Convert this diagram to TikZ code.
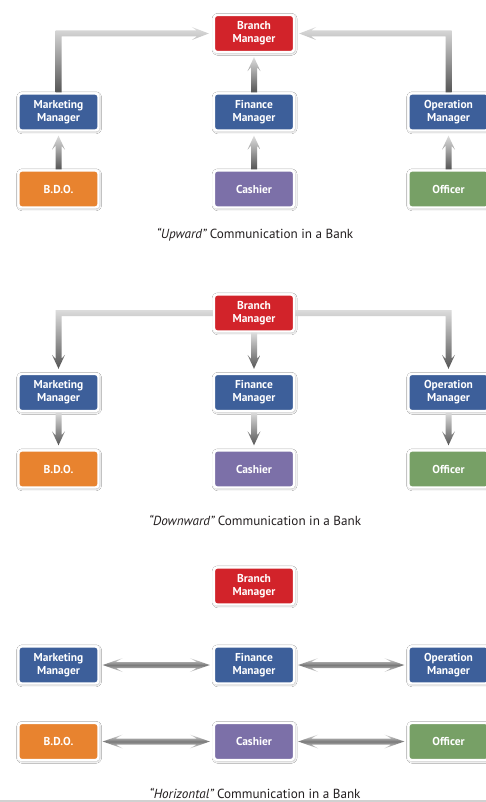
\documentclass[tikz,border=0pt]{standalone}
\usepackage{fontspec}
\setmainfont{PT Sans}
\usetikzlibrary{calc,shadows.blur}
\definecolor{cRed}{HTML}{D2232A}
\definecolor{cBlue}{HTML}{3D5F9A}
\definecolor{cOrange}{HTML}{E8832F}
\definecolor{cPurple}{HTML}{7C70A8}
\definecolor{cGreen}{HTML}{77A066}
\definecolor{cLight}{HTML}{DCDCDC}
\definecolor{cDark}{HTML}{555555}
\definecolor{cMid}{HTML}{7A7A7A}
\definecolor{cCap}{HTML}{231F20}
\tikzset{
  box/.style={rectangle, rounded corners=3bp, draw=white, line width=2.4bp,
    minimum width=80bp, minimum height=37bp, inner sep=0pt, align=center,
    text=white, font=\bfseries\fontsize{11.5}{13}\selectfont,
    blur shadow={shadow xshift=0.6bp, shadow yshift=-0.8bp, shadow blur radius=2.5bp, shadow opacity=45}},
  redbox/.style={box, fill=cRed},
  bluebox/.style={box, fill=cBlue},
  orangebox/.style={box, fill=cOrange},
  purplebox/.style={box, fill=cPurple},
  greenbox/.style={box, fill=cGreen},
  vshade/.style={top color=cLight, bottom color=cDark, draw=none},
  hshade/.style={top color=cLight, bottom color=cLight, middle color=cMid, draw=none},
  caption/.style={font=\fontsize{13.2}{15}\selectfont, text=cCap, inner sep=0pt}
}
% straight arrow up: #1 lower source, #2 upper target
\newcommand\arrUp[2]{%
  \shade[vshade] ($(#1.north)+(-3,0)$) -- ($(#2.south)+(-3,14)$) -- ($(#2.south)+(-6.5,18)$)
    -- ($(#2.south)+(0,4)$) -- ($(#2.south)+(6.5,18)$) -- ($(#2.south)+(3,14)$)
    -- ($(#1.north)+(3,0)$) -- cycle;}
% straight arrow down: #1 upper source, #2 lower target
\newcommand\arrDown[2]{%
  \shade[vshade] ($(#1.south)+(-3,0)$) -- ($(#2.north)+(-3,-14)$) -- ($(#2.north)+(-6.5,-18)$)
    -- ($(#2.north)+(0,-4)$) -- ($(#2.north)+(6.5,-18)$) -- ($(#2.north)+(3,-14)$)
    -- ($(#1.south)+(3,0)$) -- cycle;}
% elbow up then sideways: #1 source (below), #2 target, #3 = 1 if target to the right, -1 if left
\newcommand\arrElbowUp[4]{%
  \coordinate (es) at (#1.north); \coordinate (et) at (#2.#4); \coordinate (ek) at (es|-et);
  \shade[vshade] ($(es)+(-3*#3,0)$) -- ($(ek)+(-3*#3,-3)$) -- ($(et)+(-16*#3,-3)$)
    -- ($(et)+(-21*#3,-6.5)$) -- ($(et)+(-4*#3,0)$) -- ($(et)+(-21*#3,6.5)$)
    -- ($(et)+(-16*#3,3)$) -- ($(ek)+(3*#3,3)$) -- ($(es)+(3*#3,0)$) -- cycle;}
% elbow sideways then down: #1 source, #2 target (below), #3 = 1 if target to the left, -1 if right
\newcommand\arrElbowDown[4]{%
  \coordinate (es) at (#1.#4); \coordinate (et) at (#2.north); \coordinate (ek) at (et|-es);
  \shade[vshade] ($(es)+(0,-3)$) -- ($(ek)+(-3*#3,-3)$) -- ($(et)+(-3*#3,-14)$)
    -- ($(et)+(-6.5*#3,-18)$) -- ($(et)+(0,-4)$) -- ($(et)+(6.5*#3,-18)$)
    -- ($(et)+(3*#3,-14)$) -- ($(ek)+(3*#3,3)$) -- ($(es)+(0,3)$) -- cycle;}
% double horizontal arrow between #1 (left) and #2 (right)
\newcommand\arrBoth[2]{%
  \coordinate (hs) at (#1.east); \coordinate (ht) at (#2.west);
  \shade[hshade] ($(hs)+(3,0)$) -- ($(hs)+(23,-7)$) -- ($(hs)+(16,-3)$) -- ($(ht)+(-16,-3)$)
    -- ($(ht)+(-23,-7)$) -- ($(ht)+(-3,0)$) -- ($(ht)+(-23,7)$) -- ($(ht)+(-16,3)$)
    -- ($(hs)+(16,3)$) -- ($(hs)+(23,7)$) -- cycle;}
\begin{document}
\begin{tikzpicture}[x=1bp, y=-1bp]
\useasboundingbox (0,0) rectangle (486,802);
\fill[white] (0,0) rectangle (486,802);
\clip (0,0) rectangle (486,802);
% ---------- Upward ----------
\node[redbox] (ub) at (254,33.5) {Branch\\Manager};
\node[bluebox] (um) at (58.5,112) {Marketing\\Manager};
\node[bluebox] (uf) at (254,112) {Finance\\Manager};
\node[bluebox] (uo) at (448.5,112) {Operation\\Manager};
\node[orangebox] (ud) at (58.5,189) {B.D.O.};
\node[purplebox] (uc) at (254,189) {Cashier};
\node[greenbox] (ui) at (448.5,189) {Officer};
\arrElbowUp{um}{ub}{1}{west}
\arrElbowUp{uo}{ub}{-1}{east}
\arrUp{uf}{ub}
\arrUp{ud}{um}
\arrUp{uc}{uf}
\arrUp{ui}{uo}
\node[caption] (ucap) at (255,235) {\itshape “Upward”\upshape{} Communication in a Bank};
% ---------- Downward ----------
\node[redbox] (db) at (254,313) {Branch\\Manager};
\node[bluebox] (dm) at (58.5,392.5) {Marketing\\Manager};
\node[bluebox] (df) at (254,392.5) {Finance\\Manager};
\node[bluebox] (do) at (448.5,392.5) {Operation\\Manager};
\node[orangebox] (dd) at (58.5,469) {B.D.O.};
\node[purplebox] (dc) at (254,469) {Cashier};
\node[greenbox] (di) at (448.5,469) {Officer};
\arrElbowDown{db}{dm}{1}{west}
\arrElbowDown{db}{do}{-1}{east}
\arrDown{db}{df}
\arrDown{dm}{dd}
\arrDown{df}{dc}
\arrDown{do}{di}
\node[caption] (dcap) at (255,520) {\itshape “Downward”\upshape{} Communication in a Bank};
% ---------- Horizontal ----------
\node[redbox] (hb) at (254,586) {Branch\\Manager};
\node[bluebox] (hm) at (58.5,665) {Marketing\\Manager};
\node[bluebox] (hf) at (254,665) {Finance\\Manager};
\node[bluebox] (ho) at (448.5,665) {Operation\\Manager};
\node[orangebox] (hd) at (58.5,741.5) {B.D.O.};
\node[purplebox] (hc) at (254,741.5) {Cashier};
\node[greenbox] (hi) at (448.5,741.5) {Officer};
\arrBoth{hm}{hf}
\arrBoth{hf}{ho}
\arrBoth{hd}{hc}
\arrBoth{hc}{hi}
\node[caption] (hcap) at (255,793) {\itshape “Horizontal”\upshape{} Communication in a Bank};
\fill[black!18] (0,799.5) rectangle (486,802);
\end{tikzpicture}
\end{document}
